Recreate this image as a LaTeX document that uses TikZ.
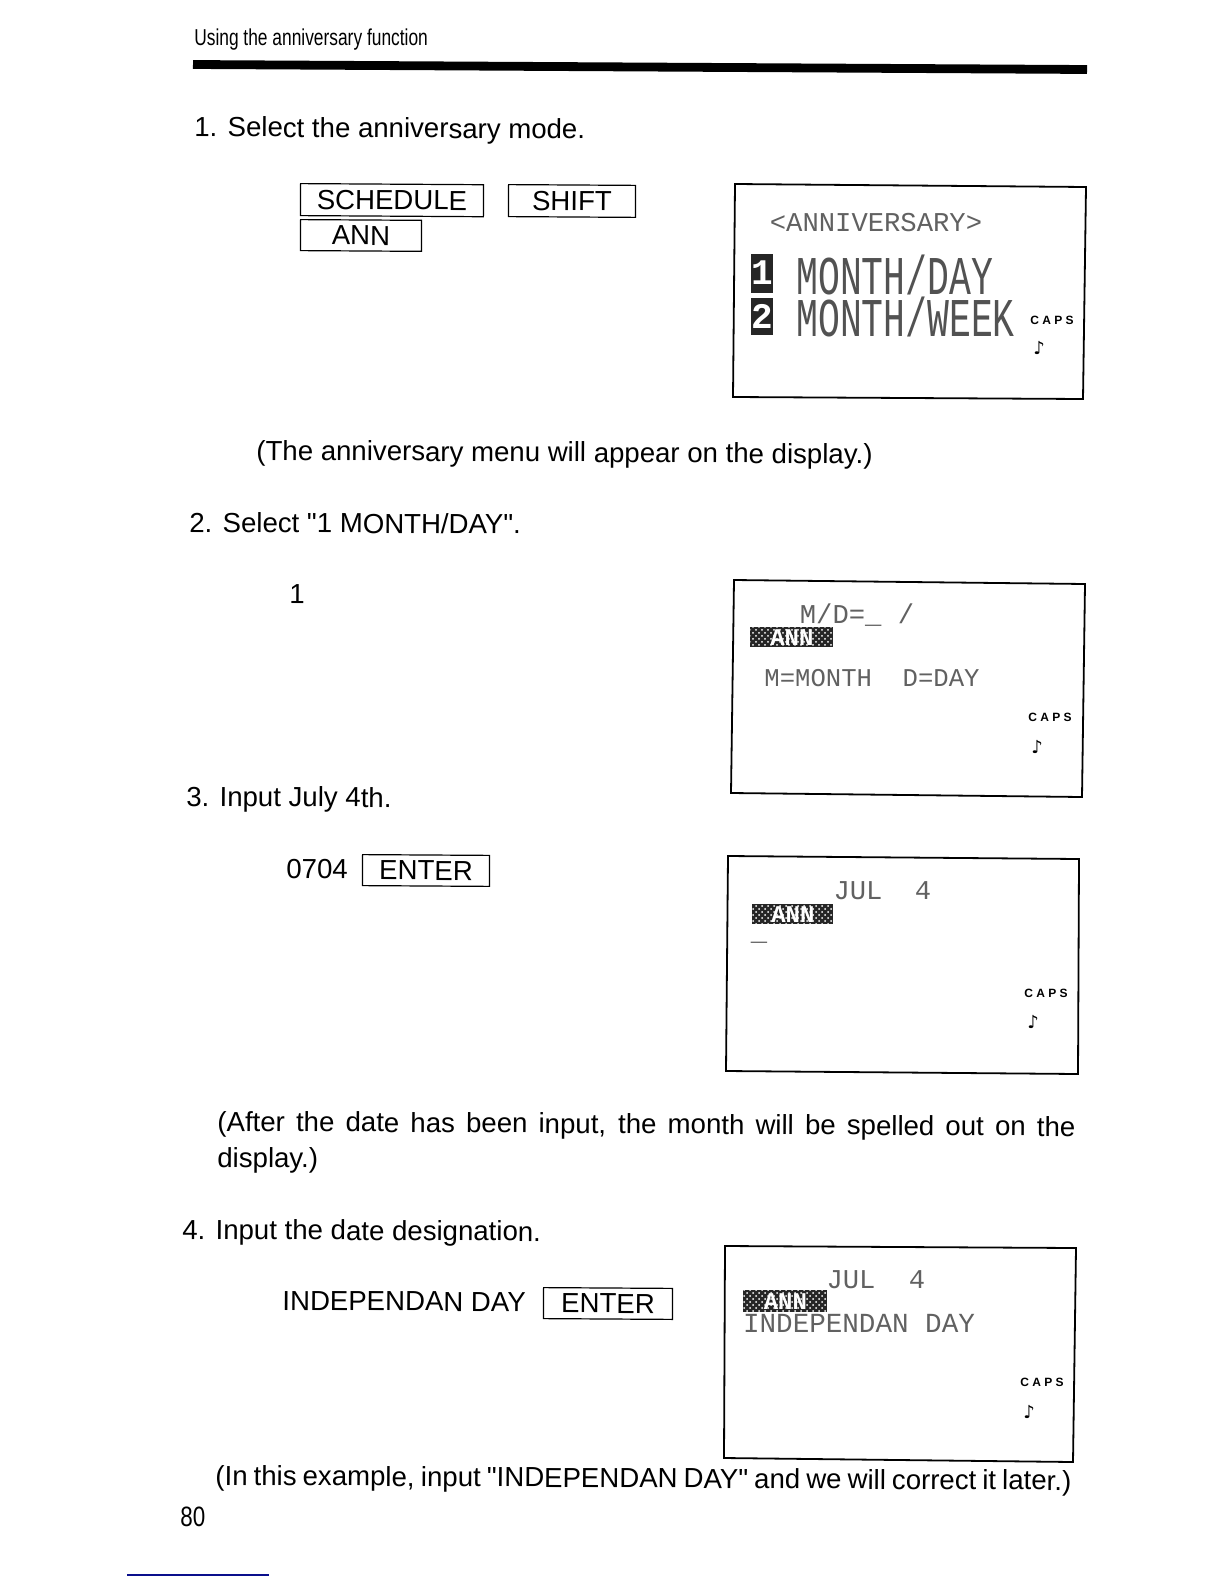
\documentclass[tikz,border=0pt]{standalone}
\usepackage{fontspec}
\usetikzlibrary{patterns}
\setmainfont{Liberation Sans}
\newfontfamily\bodyfont{Liberation Sans}
\newfontfamily\lcdfont{Liberation Mono}
\newfontfamily\notefont{DejaVu Sans}
\definecolor{scanblue}{RGB}{10,15,140}
\tikzset{
	bodytext/.style={anchor=base west, inner sep=0pt, rotate=-0.35, font=\bodyfont\fontsize{13.8}{17}\selectfont},
	headtext/.style={anchor=base west, inner sep=0pt, xscale=0.755, transform shape, font=\fontsize{11.5}{15}\selectfont},
	pagetext/.style={anchor=base west, inner sep=0pt, xscale=0.8, transform shape, font=\fontsize{14}{15}\selectfont},
	keybox/.style={draw, line width=0.6pt, anchor=north west, inner sep=0pt, rotate=-0.35, font=\bodyfont\fontsize{13.8}{17}\selectfont},
	lcdsmall/.style={anchor=center, inner sep=0pt, color=black!62, font=\lcdfont\fontsize{13.6}{15}\selectfont},
	lcdlarge/.style={anchor=west, inner sep=0pt, color=black!68, yscale=1.5, transform shape, font=\lcdfont\fontsize{18.2}{20}\selectfont},
	lcdinv/.style={fill=black!85, text=white, anchor=north west, inner sep=0pt, postaction={pattern=crosshatch dots, pattern color=white}, font=\lcdfont\bfseries\fontsize{12}{12}\selectfont},
	lcdnum/.style={fill=black!85, text=white, inner sep=0pt, minimum width=10pt, font=\lcdfont\bfseries\fontsize{18}{18}\selectfont},
	capstext/.style={inner sep=0pt, font=\bfseries\fontsize{6}{7}\selectfont},
	notetext/.style={inner sep=0pt, font=\notefont\bfseries\fontsize{9}{10}\selectfont},
}
\begin{document}
\begin{tikzpicture}[x=0.5pt, y=-0.5pt]
		%%%%% PAGE %%%%%
		\useasboundingbox (0, 0) rectangle (1224, 1584);
		\fill[white] (0, 0) rectangle (1224, 1584);
		
		\node[headtext] (header) at (194, 45.5) {Using the anniversary function};
		\draw[line width=4.4pt] (193, 64.5) -- (1087, 69.5);
		
		%%%%% STEP 1 %%%%%
		\node[bodytext] (stepone) at (194, 136.5) {1. Select the anniversary mode.};
		\node[keybox, minimum width=91.5pt, minimum height=16pt] (keyschedule) at (300, 183) {SCHEDULE};
		\node[keybox, minimum width=63.5pt, minimum height=16pt] (keyshift) at (508, 184) {SHIFT};
		\node[keybox, minimum width=60.5pt, minimum height=15.5pt] (keyann) at (300, 219) {ANN};
		
		\draw[line width=0.9pt] (735, 184) -- (1086, 187) -- (1083, 399) -- (733, 397) -- cycle;
		\node[lcdsmall] (annivtitle) at (876, 223) {<ANNIVERSARY>};
		\node[lcdnum, minimum height=19.5pt] (numone) at (762, 273) {1};
		\node[lcdnum, minimum height=18.5pt] (numtwo) at (762, 316) {2};
		\node[lcdlarge] (monthday) at (796, 275) {MONTH/DAY};
		\node[lcdlarge] (monthweek) at (796, 317) {MONTH/WEEK};
		\node[capstext] (capsone) at (1052, 320) {C A P S};
		\node[notetext] (noteone) at (1039, 348) {♪};
		
		\node[bodytext] (annivnote) at (256, 460) {(The anniversary menu will appear on the display.)};
		
		%%%%% STEP 2 %%%%%
		\node[bodytext] (steptwo) at (189, 532) {2. Select "1 MONTH/DAY".};
		\node[bodytext] (digitone) at (289, 603) {1};
		
		\draw[line width=0.9pt] (734, 580) -- (1085, 584) -- (1082, 797) -- (731, 793) -- cycle;
		\node[lcdsmall] (mdprompt) at (857, 615) {M/D=\_ /};
		\node[lcdinv, minimum width=41.5pt, minimum height=10pt] (annone) at (750, 627) {ANN};
		\node[lcdsmall, font=\lcdfont\fontsize{12.8}{15}\selectfont] (mdhelp) at (872, 678) {M=MONTH\ \ D=DAY};
		\node[capstext] (capstwo) at (1050, 717) {C A P S};
		\node[notetext] (notetwo) at (1037, 747) {♪};
		
		%%%%% STEP 3 %%%%%
		\node[bodytext] (stepthree) at (186, 806) {3. Input July 4th.};
		\node[bodytext] (digitsdate) at (286, 878) {0704};
		\node[keybox, minimum width=63.5pt, minimum height=15.5pt] (keyenterone) at (362, 854) {ENTER};
		
		\draw[line width=0.9pt] (728, 856) -- (1079, 859) -- (1078, 1074) -- (726, 1071) -- cycle;
		\node[lcdsmall] (julone) at (858, 891) {JUL};
		\node[lcdsmall] (fourone) at (923, 891) {4};
		\node[lcdinv, minimum width=40.5pt, minimum height=10pt] (anntwo) at (752, 904) {ANN};
		\node[lcdsmall] (cursor) at (759, 942) {\_};
		\node[capstext] (capsthree) at (1046, 993) {C A P S};
		\node[notetext] (notethree) at (1033, 1022) {♪};
		
		\node[bodytext] (dateone) at (217, 1131) {\makebox[429pt][s]{(After the date has been input, the month will be spelled out on the}};
		\node[bodytext] (datetwo) at (217, 1167) {display.)};
		
		%%%%% STEP 4 %%%%%
		\node[bodytext] (stepfour) at (182, 1239) {4. Input the date designation.};
		\node[bodytext] (independan) at (282, 1310) {INDEPENDAN DAY};
		\node[keybox, minimum width=64.5pt, minimum height=15.5pt] (keyentertwo) at (543, 1287) {ENTER};
		
		\draw[line width=0.9pt] (725, 1246) -- (1076, 1248) -- (1073, 1462) -- (724, 1458) -- cycle;
		\node[lcdsmall] (jultwo) at (851, 1280) {JUL};
		\node[lcdsmall] (fourtwo) at (917, 1280) {4};
		\node[lcdinv, minimum width=42pt, minimum height=11pt] (annthree) at (743, 1290) {ANN};
		\node[lcdsmall, font=\lcdfont\fontsize{13.8}{15}\selectfont] (dayname) at (859, 1323) {INDEPENDAN DAY};
		\node[capstext] (capsfour) at (1042, 1382) {C A P S};
		\node[notetext] (notefour) at (1029, 1412) {♪};
		
		\node[bodytext] (examplenote) at (215, 1485) {\makebox[428pt][s]{(In this example, input "INDEPENDAN DAY" and we will correct it later.)}};
		
		%%%%% FOOT %%%%%
		\node[pagetext] (pagenum) at (180, 1526) {80};
		\draw[line width=0.6pt, color=scanblue] (127, 1575) -- (269, 1575);
		
		%%%%% END %%%%%
	\end{tikzpicture}
\end{document}
